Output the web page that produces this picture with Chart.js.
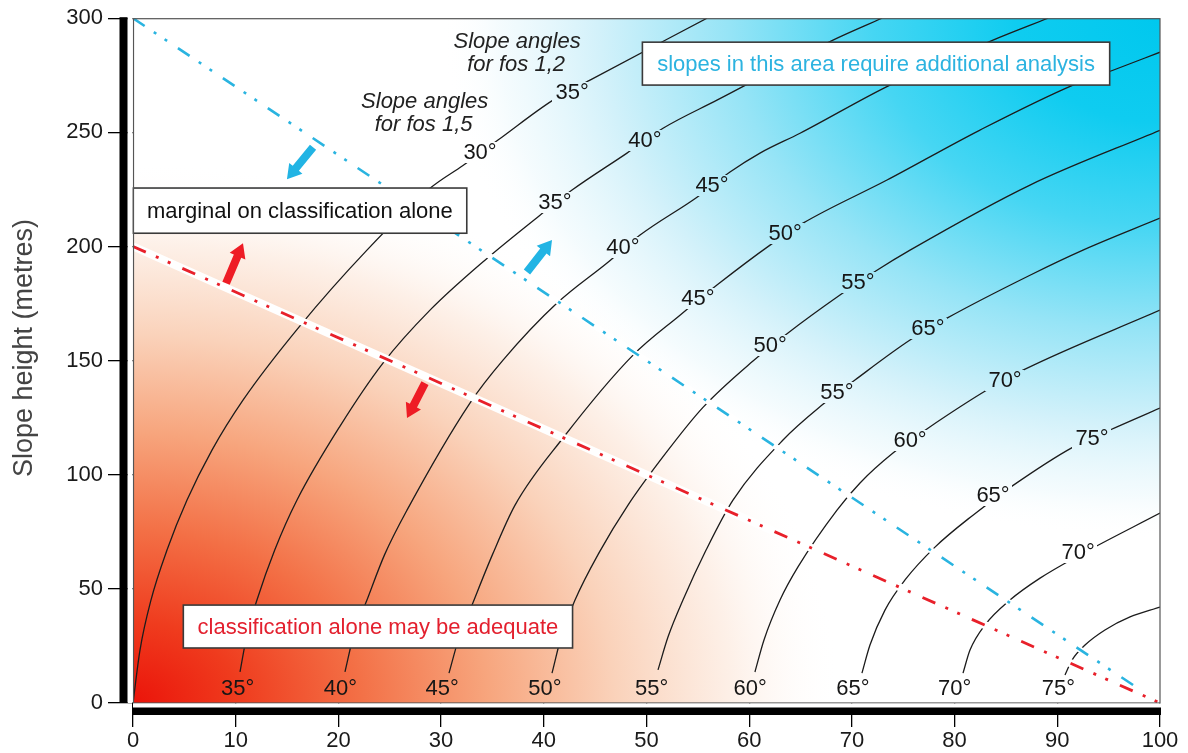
<!DOCTYPE html>
<html><head><meta charset="utf-8">
<script src="https://cdn.jsdelivr.net/npm/chart.js@4/dist/chart.umd.min.js"></script>
<style>html,body{margin:0;padding:0;background:#fff;}#wrap{width:1188px;height:753px;}</style>
</head><body><div id="wrap"><canvas id="c" width="1188" height="753"></canvas></div>
<script>
// ---------- data (x = horizontal value, y = slope height in metres) ----------
const X_MIN = 0, X_MAX = 100, X_STEP = 10;
const Y_MIN = 0, Y_MAX = 300, Y_STEP = 50;
const yTitle = 'Slope height (metres)';

const curve0 = [[0,0],[0.68,23.2],[1.75,45.1],[3.31,67.0],[5.26,88.9],[7.69,110.8],[10.71,132.7],[16.16,164.7],[22.78,198.4],[28.92,225.5],[32.13,235.5],[35.54,246.6],[40.9,264.1],[44.5,272.9],[55.89,300]];
const curve1 = [[10.42,13.6],[11.1,30],[12.07,45.1],[13.8,67],[15.97,88.9],[20.16,121.3],[24.34,148.9],[28.92,172.1],[34.27,194.0],[39.63,213.7],[42.75,224.7],[48.10,240.9],[51.61,251.8],[56.86,264.1],[68.16,290.4],[72.93,300]];
const curve2 = [[20.64,13.6],[21.5,30],[22.78,45.1],[24.5,65],[26.68,84.5],[32.81,131.4],[36.03,150.2],[41.29,175.2],[46.25,193.1],[49.37,205.0],[54.92,221.6],[58.13,232.6],[61.05,240.9],[64.95,249.6],[73.71,270.7],[83.74,290.4],[89.10,300]];
const curve3 = [[30.77,13.1],[31.7,28],[33.01,42.9],[35.0,65],[37.20,86.7],[41.87,116.1],[48.69,152.4],[53.26,169.9],[56.86,183.1],[62.03,200.6],[65.24,210.2],[73.42,229.1],[82.47,251.0],[91.53,270.7],[95.42,277.2],[100,285.1]];
const curve4 = [[40.80,13.1],[41.7,29],[43.04,45.1],[45.4,66],[48.20,86.7],[51.8,109],[55.50,129.5],[60.37,149.8],[63.78,162.1],[68.84,178.7],[72.44,189.6],[75.66,198.4],[87.34,226.9],[100,250.9]];
const curve5 = [[51.12,14.5],[52.1,29],[53.55,45.1],[55.8,67],[58.42,88.9],[63.29,115.2],[67.09,130.5],[70.30,141.5],[75.66,159.0],[79.26,168.6],[87.34,187.4],[92.50,198.4],[100,212.4]];
const curve6 = [[60.56,13.6],[61.44,27.6],[63.0,45.1],[64.75,59.6],[68.55,84.5],[70.79,96.4],[74.00,109.5],[77.41,120.4],[83.15,137.1],[86.66,145.8],[100,172.1]];
const curve7 = [[70.98,13.1],[71.76,25.4],[73.22,40.7],[75.17,53.9],[78.09,68.3],[81.79,82.3],[85.59,95.0],[91.53,112.1],[95.13,119.6],[100,129.2]];
const curve8 = [[80.82,13.1],[81.5,23.2],[82.96,34.2],[85.39,45.1],[88.32,54.7],[92.02,64.4],[100,83.2]];
const curve9 = [[90.75,12.3],[91.43,18.8],[92.7,25.4],[94.64,32.0],[97.08,37.7],[100,42.0]];
const curves = [curve0,curve1,curve2,curve3,curve4,curve5,curve6,curve7,curve8,curve9];

const blueLimit = [[0,300],[97.6,7.2]];
const redLimit  = [[0,200],[100,0]];

const bottomLabelText = ['35°','40°','45°','50°','55°','60°','65°','70°','75°'];
const bottomLabelX    = [10.2,20.2,30.1,40.1,50.5,60.1,70.1,80.0,90.1];
const bottomLabelY    = 6.6;

const upperLabelText = ['30°','35°','35°','40°','40°','45°','45°','50°','50°','55°','55°','65°','60°','70°','65°','75°','70°'];
const upperLabelX    = [33.79,42.75,41.09,49.85,47.71,56.38,55.01,63.49,62.03,70.59,68.55,77.41,75.66,84.91,83.74,93.38,92.02];
const upperLabelY    = [241.3,267.6,219.4,246.6,199.7,226.9,177.4,205.8,156.8,184.4,136.2,164.2,115.2,141.5,91.1,116.1,66.1];

const noteText = ['Slope angles','for fos 1,2','Slope angles','for fos 1,5'];
const noteX    = [37.4,37.3,28.4,28.3];
const noteY    = [289.5,279.4,263.2,253.1];

const boxText  = ['slopes in this area require additional analysis','marginal on classification alone','classification alone may be adequate'];
const boxX0    = [49.6,0,4.9];
const boxX1    = [95.1,32.5,42.8];
const boxY0    = [270.7,205.8,24.1];
const boxY1    = [289.5,225.6,42.9];
const boxColor = ['#2cb3e0','#111111','#e3202e'];

const arrowTail = [[17.53,243.5],[38.36,188.8],[9.06,183.9],[28.43,140.1]];
const arrowTip  = [[14.99,229.5],[40.80,202.8],[10.71,201.4],[26.68,124.8]];
const arrowColor = ['#22b4e4','#22b4e4','#ee1c25','#ee1c25'];

// ---------- drawing helpers ----------
const FONT = "'Liberation Sans', Arial, Helvetica, sans-serif";
const toXY = arr => arr.map(p => ({x: p[0], y: p[1]}));

const redStops = [[0,'rgb(235,20,10)'],[0.15,'rgb(239,60,30)'],[0.32,'rgb(243,112,70)'],[0.5,'rgb(247,165,125)'],[0.68,'rgb(250,210,186)'],[0.85,'rgba(253,239,230,0.9)'],[1,'rgba(255,255,255,0)']];
const blueStops = [[0,'rgb(0,200,238)'],[0.2,'rgb(15,204,240)'],[0.4,'rgb(70,214,243)'],[0.6,'rgb(150,228,246)'],[0.78,'rgb(210,241,250)'],[0.92,'rgba(240,250,253,0.7)'],[1,'rgba(255,255,255,0)']];

function radial(ctx, a, cx, cy, rx, ry, stops) {
  ctx.save();
  ctx.beginPath(); ctx.rect(a.left, a.top, a.right - a.left, a.bottom - a.top); ctx.clip();
  ctx.translate(cx, cy); ctx.scale(1, ry / rx);
  const g = ctx.createRadialGradient(0, 0, 0, 0, 0, rx);
  stops.forEach(s => g.addColorStop(s[0], s[1]));
  ctx.fillStyle = g;
  ctx.fillRect(-rx, -rx, 2 * rx, 2 * rx);
  ctx.restore();
}
function paintBg(ctx, a) {
  const w = a.right - a.left, h = a.bottom - a.top;
  ctx.save();
  ctx.fillStyle = '#fff';
  ctx.fillRect(a.left, a.top, w, h);
  radial(ctx, a, a.left, a.bottom, w * 0.69, h * 0.79, redStops);
  radial(ctx, a, a.right, a.top, w * 0.70, h * 0.76, blueStops);
  ctx.restore();
}

const annot = {
  id: 'annot',
  beforeDatasetsDraw(chart) { paintBg(chart.ctx, chart.chartArea); },
  afterDatasetsDraw(chart) {
    const {ctx, chartArea: a} = chart;
    const xs = chart.scales.x, ys = chart.scales.y;
    const X = v => xs.getPixelForValue(v), Y = v => ys.getPixelForValue(v);
    ctx.save();
    // degree labels with a gap in the contour under them
    ctx.font = '22px ' + FONT;
    ctx.textAlign = 'center'; ctx.textBaseline = 'middle';
    const lab = (t, dx, dy) => {
      const px = X(dx), py = Y(dy), w = ctx.measureText(t).width;
      const l = Math.round(px - w / 2 - 3), tp = Math.round(py - 10);
      ctx.save(); ctx.beginPath(); ctx.rect(l, tp, Math.round(w + 6), 21); ctx.clip(); paintBg(ctx, a); ctx.restore();
      ctx.fillStyle = '#161616'; ctx.fillText(t, px, py + 1);
    };
    bottomLabelText.forEach((t, i) => lab(t, bottomLabelX[i], bottomLabelY));
    upperLabelText.forEach((t, i) => lab(t, upperLabelX[i], upperLabelY[i]));
    // italic notes
    ctx.font = 'italic 22px ' + FONT;
    ctx.fillStyle = '#222';
    noteText.forEach((t, i) => ctx.fillText(t, X(noteX[i]), Y(noteY[i])));
    // arrows
    arrowTail.forEach((tl, i) => {
      const x0 = X(tl[0]), y0 = Y(tl[1]), x1 = X(arrowTip[i][0]), y1 = Y(arrowTip[i][1]);
      const L = Math.hypot(x1 - x0, y1 - y0), ux = (x1 - x0) / L, uy = (y1 - y0) / L, nx = -uy, ny = ux;
      const hw = 4, hh = 8.5, hl = 14;
      const bx = x1 - ux * hl, by = y1 - uy * hl;
      ctx.beginPath();
      ctx.moveTo(x0 + nx * hw, y0 + ny * hw);
      ctx.lineTo(bx + nx * hw, by + ny * hw);
      ctx.lineTo(bx + nx * hh, by + ny * hh);
      ctx.lineTo(x1, y1);
      ctx.lineTo(bx - nx * hh, by - ny * hh);
      ctx.lineTo(bx - nx * hw, by - ny * hw);
      ctx.lineTo(x0 - nx * hw, y0 - ny * hw);
      ctx.closePath();
      ctx.fillStyle = arrowColor[i]; ctx.fill();
    });
    // boxes
    ctx.font = '22px ' + FONT;
    boxText.forEach((t, i) => {
      const l = X(boxX0[i]), r = X(boxX1[i]), tp = Y(boxY1[i]), bt = Y(boxY0[i]);
      ctx.fillStyle = '#fff'; ctx.fillRect(l, tp, r - l, bt - tp);
      ctx.lineWidth = 1.6; ctx.strokeStyle = '#3a3a3a'; ctx.strokeRect(l, tp, r - l, bt - tp);
      ctx.fillStyle = boxColor[i]; ctx.fillText(t, (l + r) / 2, (tp + bt) / 2 + 1);
    });
    ctx.restore();
  },
  afterDraw(chart) {
    const {ctx, chartArea: a} = chart;
    ctx.save();
    // thin plot frame
    ctx.strokeStyle = '#555'; ctx.lineWidth = 1.2;
    ctx.strokeRect(a.left + 0.5, a.top + 0.5, a.right - a.left - 0.5, a.bottom - a.top - 0.5);
    // gaps and thick axis bars
    ctx.fillStyle = '#fff';
    ctx.fillRect(a.left - 5.5, a.top - 1, 5, a.bottom - a.top + 1);
    ctx.fillRect(a.left, a.bottom + 0.5, a.right - a.left + 1, 4.5);
    ctx.fillStyle = '#000';
    ctx.fillRect(a.left - 13.5, a.top - 1, 8, a.bottom - a.top + 1);
    ctx.fillRect(a.left, a.bottom + 4.5, a.right - a.left + 1, 7.5);
    // y-axis title
    ctx.translate(25, 348); ctx.rotate(-Math.PI / 2);
    ctx.font = '27px ' + FONT; ctx.fillStyle = '#444';
    ctx.textAlign = 'center'; ctx.textBaseline = 'middle';
    ctx.fillText(yTitle, 0, 0);
    ctx.restore();
  }
};

const curveSets = curves.map(c => ({
  data: toXY(c), showLine: true, pointRadius: 0, borderColor: '#1c1c1c', borderWidth: 1.3,
  cubicInterpolationMode: 'monotone', fill: false, order: 5
}));
const limitSets = [
  {data: toXY(redLimit), showLine: true, pointRadius: 0, borderColor: '#ffffff', borderWidth: 8, order: 3},
  {data: toXY(blueLimit), showLine: true, pointRadius: 0, borderColor: '#ffffff', borderWidth: 6, order: 3},
  {data: toXY(redLimit), showLine: true, pointRadius: 0, borderColor: '#e8202a', borderWidth: 2.8, borderDash: [14,11,3,10,3,13], borderCapStyle: 'butt', order: 1},
  {data: toXY(blueLimit), showLine: true, pointRadius: 0, borderColor: '#2ab4e0', borderWidth: 2.6, borderDash: [14,11,3,10,3,13], borderCapStyle: 'butt', order: 1}
];

new Chart(document.getElementById('c'), {
  type: 'scatter',
  data: {datasets: [...limitSets, ...curveSets]},
  options: {
    responsive: false, animation: false, devicePixelRatio: 1, events: [],
    layout: {padding: {top: 18, right: 28, left: 0, bottom: 0}},
    plugins: {legend: {display: false}, tooltip: {enabled: false}},
    scales: {
      x: {
        type: 'linear', min: X_MIN, max: X_MAX, position: 'bottom',
        ticks: {stepSize: X_STEP, font: {size: 22, family: FONT}, color: '#1a1a1a', padding: 1, maxRotation: 0},
        grid: {drawOnChartArea: false, drawTicks: true, tickLength: 24, color: '#000', lineWidth: 1.3},
        border: {display: false},
        afterFit: s => { s.height = 50; }
      },
      y: {
        type: 'linear', min: Y_MIN, max: Y_MAX,
        ticks: {stepSize: Y_STEP, font: {size: 22, family: FONT}, color: '#1a1a1a', padding: 5},
        grid: {drawOnChartArea: false, drawTicks: true, tickLength: 25, color: '#000', lineWidth: 1.3},
        border: {display: false},
        afterFit: s => { s.width = 133; }
      }
    }
  },
  plugins: [annot]
});
</script>
</body></html>
